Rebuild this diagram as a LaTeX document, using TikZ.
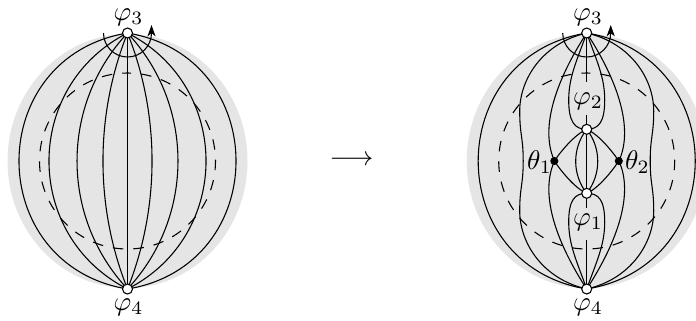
\documentclass[tikz,border=0pt]{standalone}
\usetikzlibrary{backgrounds,arrows.meta}
\definecolor{disc}{gray}{0.9}
\tikzset{
  x=0.37pt,y=0.37pt,
  open/.style={circle,draw,fill=white,line width=0.4pt,inner sep=0pt,minimum size=3.7pt},
  full/.style={circle,fill=black,inner sep=0pt,minimum size=3pt},
  edge/.style={draw,line width=0.4pt},
  dashcirc/.style={draw,line width=0.4pt,dash pattern=on 3.9pt off 3.7pt,dash phase=1.95pt},
  twist/.style={draw,line width=0.4pt,-{Stealth[length=4.2pt,width=3pt,inset=1.2pt]}},
  lab/.style={inner sep=0pt}
}
\begin{document}
\begin{tikzpicture}
\useasboundingbox (0,0) rectangle (696,320);
% nodes
\node[open] (tl) at (127.5,287) {};
\node[open] (bl) at (127.5,31) {};
\node[open] (tr) at (586.7,287) {};
\node[open] (br) at (586.7,31) {};
\node[open] (ur) at (586.7,190.7) {};
\node[open] (lr) at (586.7,126.7) {};
\node[full] (th1) at (554.3,159) {};
\node[full] (th2) at (618.8,159) {};
\coordinate (cl) at (127.5,159);
\coordinate (cr) at (586.7,159);
\node[lab] (p3l) at (128.5,303) {$\varphi_3$};
\node[lab] (p4l) at (128.5,13) {$\varphi_4$};
\node[lab] (p3r) at (588,303) {$\varphi_3$};
\node[lab] (p4r) at (588,13) {$\varphi_4$};
\node[lab] (p2) at (588,219) {$\varphi_2$};
\node[lab] (p1) at (588,98) {$\varphi_1$};
\node[lab,anchor=east] (t1) at (552.5,158) {$\theta_1$};
\node[lab,anchor=west] (t2) at (624.5,158) {$\theta_2$};
\node[lab] (arrow) at (351.5,159) {$\longrightarrow$};
\begin{pgfonlayer}{background}
% grey discs
\fill[disc] (cl) ellipse [x radius=120,y radius=127];
\fill[disc] (cr) ellipse [x radius=120,y radius=127];
% dashed circles
\foreach \c in {cl,cr}
  \path[dashcirc] (\c) ++(0,88) arc[start angle=90,delta angle=360,radius=88];
% left lunes
\foreach \s in {-1,1}{
  \foreach \a/\b in {144.7/24,104.7/53.3,67.3/72.2,32.7/82}
    \path[edge] (tl.center) .. controls +(\s*\a,-\b) and +(\s*\a,\b) .. (bl.center);
  % right outer
  \path[edge] (tr.center) .. controls +(\s*144.7,-24) and +(\s*144.7,24) .. (br.center);
  % right second (wavy)
  \path[edge] (tr.center) .. controls +(\s*44,-10) and +(0,32) .. ++(\s*67,-78)
     .. controls +(0,-24) and +(0,24) .. ++(\s*-3.5,-50)
     .. controls +(0,-24) and +(0,24) .. ++(\s*3.5,-50)
     .. controls +(0,-32) and +(\s*44,10) .. (br.center);
  % right third through theta nodes
  \path[edge] (tr.center) .. controls +(\s*28,-43) and +(\s*16,35) .. ++(\s*32.2,-128)
     .. controls +(\s*16,-35) and +(\s*28,43) .. (br.center);
  % teardrops
  \path[edge] (tr.center) .. controls +(\s*10,-28) and +(0,23) .. ++(\s*18,-67)
     .. controls +(0,-22) and +(\s*12,0) .. (ur.center);
  \path[edge] (br.center) .. controls +(\s*10,28) and +(0,-23) .. ++(\s*18,67)
     .. controls +(0,22) and +(\s*12,0) .. (lr.center);
  % inner lens
  \path[edge] (ur.center) .. controls +(\s*14.7,-18.8) and +(\s*14.7,18.8) .. (lr.center);
}
% links to theta nodes
\path[edge] (ur.center) .. controls +(-12,-5) and +(6,9) .. (th1.center);
\path[edge] (lr.center) .. controls +(-12,5) and +(6,-9) .. (th1.center);
\path[edge] (ur.center) .. controls +(12,-5) and +(-6,9) .. (th2.center);
\path[edge] (lr.center) .. controls +(12,5) and +(-6,-9) .. (th2.center);
% verticals
\coordinate (a1) at (586.7,238);
\coordinate (a2) at (586.7,205);
\coordinate (a3) at (586.7,112);
\coordinate (a4) at (586.7,80);
\path[edge] (tl.center) -- (bl.center);
\path[edge] (ur.center) -- (lr.center);
\path[edge] (tr.center) -- (a1);
\path[edge] (ur.center) -- (a2);
\path[edge] (lr.center) -- (a3);
\path[edge] (br.center) -- (a4);
% twist arcs
\path[twist] (tl.center) ++(-24,0) arc[start angle=180,end angle=360,radius=24] -- ++(0,8);
\path[twist] (tr.center) ++(-24,0) arc[start angle=180,end angle=360,radius=24] -- ++(0,8);
\end{pgfonlayer}
\end{tikzpicture}
\end{document}
